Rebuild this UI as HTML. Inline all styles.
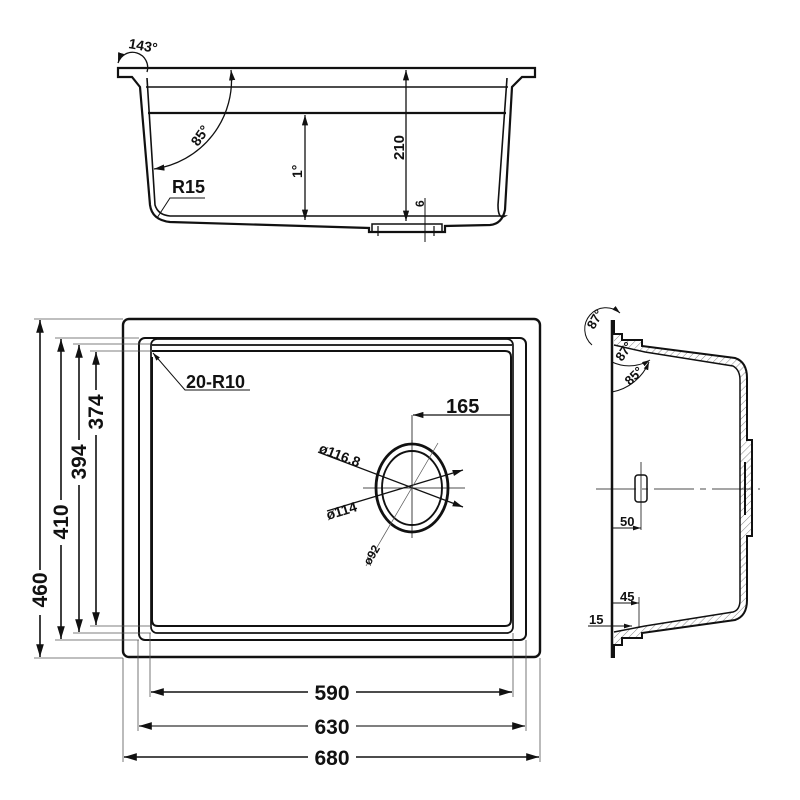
<!DOCTYPE html>
<html><head><meta charset="utf-8"><style>
html,body{margin:0;padding:0;background:#fff;width:800px;height:800px;overflow:hidden;}
svg{display:block;overflow:hidden}
text{font-family:"Liberation Sans Narrow","Liberation Sans",sans-serif;font-weight:bold;fill:#111}
</style></head><body>
<svg width="800" height="800" viewBox="0 0 800 800" xmlns="http://www.w3.org/2000/svg">
<defs>
<marker id="a" viewBox="0 0 10 6" refX="10" refY="3" markerWidth="8" markerHeight="5" orient="auto-start-reverse"><path d="M0,0L10,3L0,6z" fill="#111"/></marker>
<pattern id="h" width="5" height="5" patternUnits="userSpaceOnUse" patternTransform="rotate(45)"><line x1="0" y1="0" x2="0" y2="5" stroke="#666" stroke-width="0.8"/></pattern>
</defs>
<g fill="none" stroke="#111">
<path d="M118,68 L535,68 L535,77 L522,77 L512,87 L505,210 Q502,224 490,225 L445,226 L445,232 L369,232 L369,228 L170,222 Q152,220 150,205 L140,87 L132,77 L118,77 Z" stroke-width="2.2"/>
<path d="M147,78 L155,205 Q158,215 170,216 L505,216 Q498,220 498,205 L507,78" stroke-width="1.6"/>
<line x1="146" y1="87" x2="508" y2="87" stroke-width="1.6"/>
<line x1="148" y1="113" x2="506" y2="113" stroke-width="2.2"/>
<rect x="372" y="224" width="70" height="8" stroke-width="1.5"/>
<line x1="378" y1="226" x2="378" y2="236" stroke-width="1.2"/>
<line x1="434" y1="226" x2="434" y2="236" stroke-width="1.2"/>
<line x1="406" y1="70" x2="406" y2="221" stroke-width="1.3" marker-start="url(#a)" marker-end="url(#a)"/>
<line x1="305" y1="115" x2="305" y2="220" stroke-width="1.3" marker-start="url(#a)" marker-end="url(#a)"/>
<line x1="425" y1="198" x2="425" y2="242" stroke-width="1"/>
<path d="M231,70 A90,90 0 0 1 154,169" stroke-width="1.3" marker-start="url(#a)" marker-end="url(#a)"/>
<path d="M118,63 A14,14 0 1 1 147,72" stroke-width="1.3" marker-start="url(#a)"/>
<path d="M157,218 L170,198 L205,198" stroke-width="1"/>
<rect x="123" y="319" width="417" height="338" rx="6" stroke-width="2.4"/>
<rect x="139" y="338" width="387" height="302" rx="6" stroke-width="2"/>
<rect x="151" y="339" width="362" height="294" rx="6" stroke-width="1.7"/>
<path d="M152,351 L505,351 Q511,351 511,357 L511,620 Q511,626 505,626 L158,626 Q152,626 152,620 L152,357" stroke-width="2"/>
<line x1="152" y1="345" x2="512" y2="345" stroke-width="1.7"/>
<g stroke="#555" stroke-width="0.8">
<line x1="34" y1="319" x2="123" y2="319"/><line x1="34" y1="658" x2="123" y2="658"/>
<line x1="55" y1="338" x2="139" y2="338"/><line x1="55" y1="640" x2="139" y2="640"/>
<line x1="73" y1="344" x2="151" y2="344"/><line x1="73" y1="633" x2="151" y2="633"/>
<line x1="90" y1="351" x2="152" y2="351"/><line x1="90" y1="626" x2="152" y2="626"/>
<line x1="123" y1="658" x2="123" y2="762"/><line x1="540" y1="658" x2="540" y2="762"/>
<line x1="138" y1="640" x2="138" y2="731"/><line x1="526" y1="640" x2="526" y2="731"/>
<line x1="150" y1="633" x2="150" y2="697"/><line x1="513" y1="633" x2="513" y2="697"/>
</g>
<g stroke-width="1.6">
<line x1="40" y1="320" x2="40" y2="657" marker-start="url(#a)" marker-end="url(#a)"/>
<line x1="61" y1="339" x2="61" y2="639" marker-start="url(#a)" marker-end="url(#a)"/>
<line x1="79" y1="345" x2="79" y2="632" marker-start="url(#a)" marker-end="url(#a)"/>
<line x1="96" y1="352" x2="96" y2="625" marker-start="url(#a)" marker-end="url(#a)"/>
<line x1="151" y1="692" x2="512" y2="692" marker-start="url(#a)" marker-end="url(#a)"/>
<line x1="139" y1="726" x2="525" y2="726" marker-start="url(#a)" marker-end="url(#a)" stroke="#555"/>
<line x1="124" y1="757" x2="539" y2="757" marker-start="url(#a)" marker-end="url(#a)"/>
</g>
<path d="M153,353 L185,390 L250,390" stroke-width="1" marker-start="url(#a)"/>
<ellipse cx="412" cy="488" rx="36" ry="44" stroke-width="2.8"/>
<ellipse cx="412" cy="488" rx="30" ry="37" stroke-width="1.9"/>
<line x1="363" y1="488" x2="465" y2="488" stroke-width="0.8"/>
<line x1="412" y1="440" x2="412" y2="538" stroke-width="0.8"/>
<line x1="412" y1="415" x2="412" y2="445" stroke-width="0.8"/>
<line x1="413" y1="415" x2="511" y2="415" stroke-width="1.3" marker-start="url(#a)"/>
<line x1="318" y1="452" x2="463" y2="507" stroke-width="1.3" marker-end="url(#a)"/>
<line x1="327" y1="511" x2="463" y2="470" stroke-width="1.3" marker-end="url(#a)"/>
<line x1="366" y1="566" x2="438" y2="443" stroke-width="0.7" stroke="#555"/>
<line x1="612" y1="320" x2="612" y2="658" stroke-width="2.5"/>
<path d="M614,320 L614,334 L622,334 L622,340 L642,340 L642,346 L735,358 Q747,362 747,378 L747,440 L752,440 L752,536 L747,536 L747,600 Q747,616 735,620 L642,633 L642,638 L622,638 L622,645 L614,645 L614,658" stroke-width="2" fill="url(#h)"/>
<path d="M614,345 L645,352 L733,366 Q740,370 740,380 L740,600 Q740,610 733,612 L645,626 L614,632" stroke-width="1.5" fill="#fff"/>
<line x1="745" y1="462" x2="745" y2="515" stroke-width="2"/>
<line x1="596" y1="489" x2="760" y2="489" stroke-width="0.8" stroke-dasharray="40,6,6,6"/>
<rect x="635" y="475" width="12" height="27" rx="3" stroke-width="1.5"/>
<line x1="641" y1="462" x2="641" y2="530" stroke-width="0.8"/>
<line x1="613" y1="528" x2="641" y2="528" stroke-width="1" marker-end="url(#a)"/>
<line x1="613" y1="603" x2="639" y2="603" stroke-width="1" marker-end="url(#a)"/>
<line x1="639" y1="597" x2="639" y2="628" stroke-width="0.8"/>
<line x1="588" y1="626" x2="632" y2="626" stroke-width="1" marker-end="url(#a)"/>
<path d="M612,362 A40,40 0 0 0 650,360" stroke-width="1" marker-end="url(#a)"/>
<path d="M612,392 A50,50 0 0 0 649,362" stroke-width="1" marker-end="url(#a)"/>
<path d="M592,345 A20,20 0 0 1 620,313" stroke-width="1" marker-end="url(#a)"/>
</g>
<text x="128" y="48" font-size="14" transform="rotate(10 128 48)">143°</text>
<text x="198" y="147" font-size="14" transform="rotate(-55 198 147)">85°</text>
<text x="172" y="193" font-size="18">R15</text>
<text x="302" y="178" font-size="14" transform="rotate(-90 302 178)">1°</text>
<text x="404" y="160" font-size="15" transform="rotate(-90 404 160)">210</text>
<text x="424" y="207" font-size="12" transform="rotate(-90 424 207)">6</text>
<text x="186" y="388" font-size="18">20-R10</text>
<text x="446" y="413" font-size="20">165</text>
<text x="318" y="452" font-size="14" transform="rotate(21 318 452)">ø116.8</text>
<text x="328" y="520" font-size="14" transform="rotate(-17 328 520)">ø114</text>
<text x="370" y="566" font-size="12" font-weight="normal" transform="rotate(-60 370 566)">ø92</text>
<g font-size="21" text-anchor="middle">
<rect x="28" y="570" width="24" height="45" fill="#fff"/>
<text x="47" y="590" transform="rotate(-90 47 590)">460</text>
<rect x="50" y="500" width="22" height="45" fill="#fff"/>
<text x="68" y="522" transform="rotate(-90 68 522)">410</text>
<rect x="68" y="440" width="22" height="45" fill="#fff"/>
<text x="86" y="462" transform="rotate(-90 86 462)">394</text>
<rect x="85" y="390" width="22" height="45" fill="#fff"/>
<text x="103" y="412" transform="rotate(-90 103 412)">374</text>
<rect x="308" y="680" width="48" height="22" fill="#fff"/>
<text x="332" y="700">590</text>
<rect x="308" y="714" width="48" height="22" fill="#fff"/>
<text x="332" y="734">630</text>
<rect x="308" y="745" width="48" height="22" fill="#fff"/>
<text x="332" y="765">680</text>
</g>
<text x="594" y="330" font-size="13" transform="rotate(-60 594 330)">87°</text>
<text x="622" y="362" font-size="13" transform="rotate(-55 622 362)">87°</text>
<text x="630" y="386" font-size="13" transform="rotate(-45 630 386)">85°</text>
<text x="620" y="526" font-size="13">50</text>
<text x="620" y="601" font-size="13">45</text>
<text x="589" y="624" font-size="13">15</text>
</svg>
</body></html>
